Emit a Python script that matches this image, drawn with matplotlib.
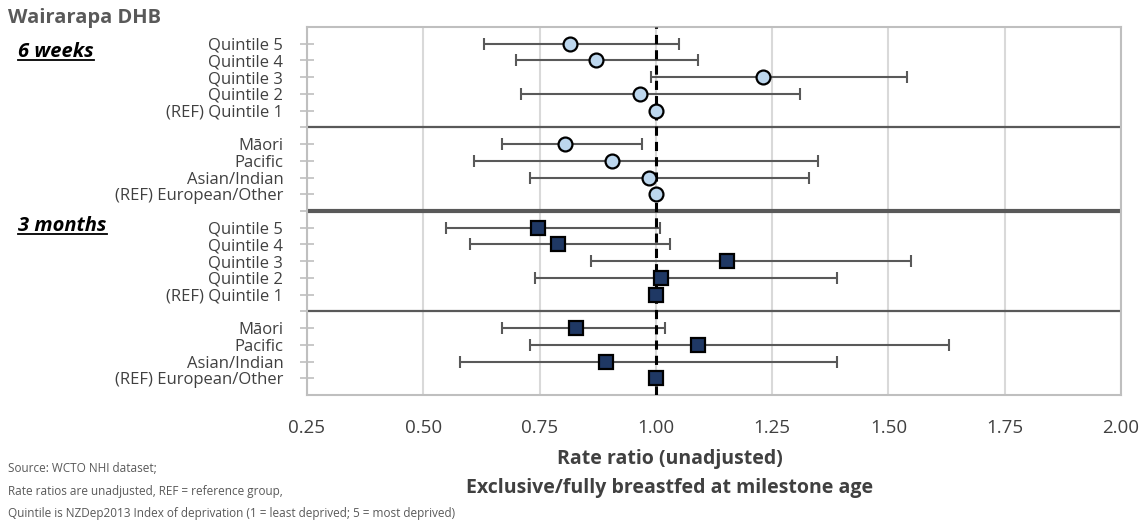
import numpy as np
import matplotlib
matplotlib.use("Agg")
import matplotlib.pyplot as plt

plt.rcParams['font.family'] = ['Open Sans', 'DejaVu Sans']

# row labels (top to bottom within each block)
quint_labels = ['Quintile 5', 'Quintile 4', 'Quintile 3', 'Quintile 2', '(REF) Quintile 1']
eth_labels = ['Māori', 'Pacific', 'Asian/Indian', '(REF) European/Other']

# 6 weeks: rate ratio, lower CI, upper CI
wk6_quint_rr = [0.816, 0.872, 1.230, 0.965, 1.00]
wk6_quint_lo = [0.630, 0.700, 0.990, 0.710, 1.00]
wk6_quint_hi = [1.050, 1.090, 1.539, 1.309, 1.00]
wk6_eth_rr = [0.804, 0.905, 0.985, 1.00]
wk6_eth_lo = [0.670, 0.610, 0.730, 1.00]
wk6_eth_hi = [0.970, 1.349, 1.330, 1.00]

# 3 months
m3_quint_rr = [0.746, 0.789, 1.153, 1.012, 1.00]
m3_quint_lo = [0.549, 0.600, 0.860, 0.740, 1.00]
m3_quint_hi = [1.009, 1.030, 1.549, 1.390, 1.00]
m3_eth_rr = [0.828, 1.090, 0.893, 1.00]
m3_eth_lo = [0.670, 0.730, 0.580, 1.00]
m3_eth_hi = [1.020, 1.630, 1.390, 1.00]

xticks = [0.25, 0.50, 0.75, 1.00, 1.25, 1.50, 1.75, 2.00]

# row positions: blocks separated by one empty slot
wk6_y = [1, 2, 3, 4, 5, 7, 8, 9, 10]
m3_y = [12, 13, 14, 15, 16, 18, 19, 20, 21]

fig = plt.figure(figsize=(11.41, 5.2), dpi=100)
ax = fig.add_axes([0.269, 0.2404, 0.7135, 0.7077])

grey = '#595959'
txt = '#404040'

def draw(ys, rr, lo, hi, marker, face):
    rr = np.array(rr)
    err = np.vstack([rr - np.array(lo), np.array(hi) - rr])
    ax.errorbar(rr, ys, xerr=err, fmt='none', ecolor=grey, elinewidth=1.5,
                capsize=4.5, capthick=1.5, zorder=3)
    ax.plot(rr, ys, linestyle='none', marker=marker, markersize=10 if marker == 'o' else 10.5,
            markerfacecolor=face, markeredgecolor='black', markeredgewidth=1.6, zorder=5)

draw(wk6_y, wk6_quint_rr + wk6_eth_rr, wk6_quint_lo + wk6_eth_lo,
     wk6_quint_hi + wk6_eth_hi, 'o', '#BDD7EE')
draw(m3_y, m3_quint_rr + m3_eth_rr, m3_quint_lo + m3_eth_lo,
     m3_quint_hi + m3_eth_hi, 's', '#1F3864')

ax.axvline(1.0, color='black', linestyle=(0, (3, 2)), linewidth=2.2, zorder=4)
for yy, lw in [(6, 1.6), (11, 3.0), (17, 1.6)]:
    ax.axhline(yy, color=grey, linewidth=lw, zorder=2)

ax.set_xlim(0.25, 2.00)
ax.set_ylim(22, 0)
ax.set_xticks(xticks)
ax.set_xticklabels(['%.2f' % t for t in xticks], fontsize=13.5, color=txt)
ax.tick_params(axis='x', length=0, pad=17)
ax.grid(axis='x', color='#D9D9D9', linewidth=1.5, zorder=0)

yt = list(range(1, 22))
labels = [''] * 21
for y, l in zip(wk6_y, quint_labels + eth_labels):
    labels[y - 1] = l
for y, l in zip(m3_y, quint_labels + eth_labels):
    labels[y - 1] = l
ax.set_yticks(yt)
ax.set_yticklabels(labels, fontsize=12, color=txt)
ax.tick_params(axis='y', direction='inout', length=10, width=1.2, color='#BFBFBF', pad=12)

for s in ax.spines.values():
    s.set_color('#BFBFBF')
    s.set_linewidth(1.5)

fig.text(0.007, 0.965, 'Wairarapa DHB', fontsize=14.5, fontweight='bold', color=grey, va='center')
for label, yf in [('6 weeks', 1 - 52 / 520), ('3 months', 1 - 226 / 520)]:
    t = fig.text(0.016, yf, label, fontsize=14.5, fontweight='bold', style='italic',
                 color='black', va='center')
    fig.canvas.draw()
    bb = t.get_window_extent()
    fig.add_artist(plt.Line2D([bb.x0 / fig.bbox.width, bb.x1 / fig.bbox.width],
                              [(bb.y0 + 2) / fig.bbox.height] * 2,
                              color='black', linewidth=1.3))

fig.text(670 / 1141, 1 - 459 / 520, 'Rate ratio (unadjusted)', fontsize=14,
         fontweight='bold', color=txt, ha='center', va='center')
fig.text(670 / 1141, 1 - 488 / 520, 'Exclusive/fully breastfed at milestone age', fontsize=14,
         fontweight='bold', color=txt, ha='center', va='center')

notes = ['Source: WCTO NHI dataset;',
         'Rate ratios are unadjusted, REF = reference group,',
         'Quintile is NZDep2013 Index of deprivation (1 = least deprived; 5 = most deprived)']
for n, yp in zip(notes, [468, 491, 513]):
    fig.text(0.007, 1 - yp / 520, n, fontsize=8.5, color=grey, va='center')

fig.savefig('out.png', dpi=100)
